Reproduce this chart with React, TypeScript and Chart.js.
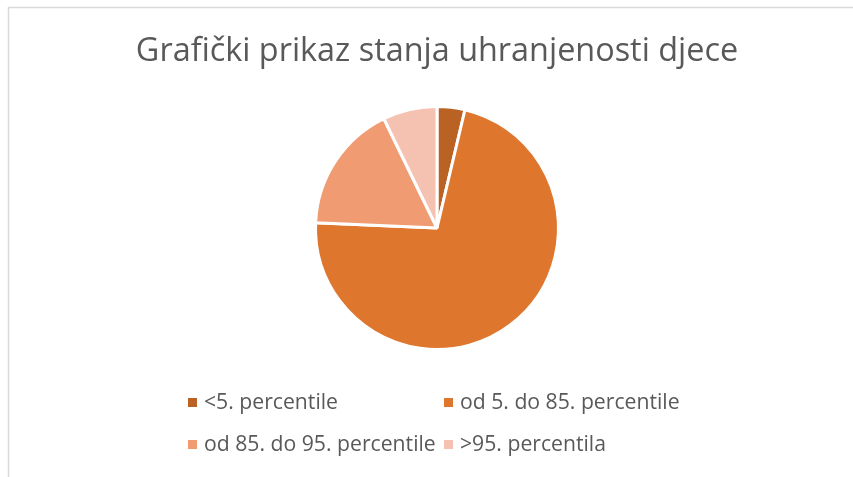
import React, { useEffect, useRef } from "react";
import { Chart, registerables } from "chart.js";

Chart.register(...registerables);

const title = "Grafički prikaz stanja uhranjenosti djece";
const categories = [
  "<5. percentile",
  "od 5. do 85. percentile",
  "od 85. do 95. percentile",
  ">95. percentila",
];
const values = [3.7, 72.0, 17.1, 7.2];
const colors = ["#BA6124", "#DE762E", "#F09B72", "#F5C1B1"];

const W = 853;
const H = 477;

const framePlugin = {
  id: "frame",
  beforeDraw(chart: any) {
    const ctx = chart.ctx;
    ctx.save();
    ctx.fillStyle = "#ffffff";
    ctx.fillRect(0, 0, W, H);
    ctx.strokeStyle = "#d9d9d9";
    ctx.lineWidth = 1.5;
    ctx.beginPath();
    ctx.moveTo(8.5, H);
    ctx.lineTo(8.5, 7.5);
    ctx.lineTo(W, 7.5);
    ctx.stroke();
    ctx.restore();
  },
  afterDraw(chart: any) {
    const ctx = chart.ctx;
    ctx.save();
    ctx.fillStyle = "#595959";
    ctx.font = "32.4px 'Open Sans'";
    ctx.textAlign = "center";
    ctx.textBaseline = "middle";
    ctx.fillText(title, 437, 52);

    const labels = chart.data.labels as string[];
    const bg = chart.data.datasets[0].backgroundColor as string[];
    const colX = [188, 444];
    const rowY = [403, 445];
    ctx.font = "21.2px 'Open Sans'";
    ctx.textAlign = "left";
    labels.forEach((lab, i) => {
      const x = colX[i % 2];
      const y = rowY[Math.floor(i / 2)];
      ctx.fillStyle = bg[i];
      ctx.fillRect(x, y - 5, 9, 9);
      ctx.fillStyle = "#595959";
      ctx.fillText(lab, x + 16, y);
    });
    ctx.restore();
  },
};

export default function App() {
  const ref = useRef<HTMLCanvasElement>(null);
  useEffect(() => {
    if (!ref.current) return;
    const chart = new Chart(ref.current, {
      type: "pie",
      data: {
        labels: categories,
        datasets: [
          {
            data: values,
            backgroundColor: colors,
            borderColor: "#ffffff",
            borderWidth: 3,
          },
        ],
      },
      options: {
        animation: false,
        responsive: false,
        layout: { padding: { top: 105, bottom: 477 - 351, left: 314, right: 853 - 560 } },
        plugins: {
          legend: { display: false },
          title: { display: false },
          tooltip: { enabled: false },
        },
      },
      plugins: [framePlugin],
    });
    return () => chart.destroy();
  }, []);
  return (
    <div style={{ position: "fixed", left: 0, top: 0, width: W, height: H, background: "#fff" }}>
      <canvas ref={ref} width={W} height={H} style={{ width: W, height: H, display: "block" }} />
    </div>
  );
}
